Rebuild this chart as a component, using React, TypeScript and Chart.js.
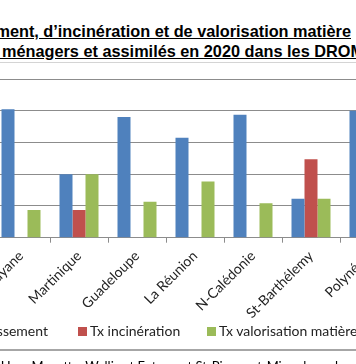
import React, { useEffect, useRef } from "react";
import { Chart, registerables } from "chart.js";

Chart.register(...registerables);

const categories = ["Guyane", "Martinique", "Guadeloupe", "La Réunion", "N-Calédonie", "St-Barthélemy", "Polynésie"];
const seriesNames = ["Tx enfouissement", "Tx incinération", "Tx valorisation matière"];
const tauxEnfouissement = [81, 40, 76, 63, 77.5, 24.5, 80];
const tauxIncineration = [0, 17.5, 0, 0, 0, 49.5, 0];
const tauxValorisation = [17.5, 40, 22.7, 35.4, 21.7, 24.5, 15];
const yTicks = [0, 20, 40, 60, 80, 100];
const seriesColors = ["#4F81BD", "#C0504D", "#9BBB59"];

const titleLine1 = "Taux d\u2019enfouissement, d\u2019incinération et de valorisation matière";
const titleLine2a = "des déchets ";
const titleLine2b = "ménagers et assimilés en 2020 dans les DROM-COM";
const footnote = "* Hors Mayotte, Wallis et Futuna et St-Pierre-et-Miquelon : données non disponibles";

export default function App() {
  const ref = useRef<HTMLCanvasElement>(null);

  useEffect(() => {
    const values = [tauxEnfouissement, tauxIncineration, tauxValorisation];
    const chart = new Chart(ref.current as HTMLCanvasElement, {
      type: "bar",
      data: {
        labels: categories,
        datasets: seriesNames.map((name, i) => ({
          label: name,
          data: values[i],
          backgroundColor: seriesColors[i],
          borderWidth: 0,
          categoryPercentage: 39 / 58,
          barPercentage: 1,
        })),
      },
      options: {
        animation: false,
        responsive: false,
        maintainAspectRatio: false,
        devicePixelRatio: 1,
        layout: { padding: { top: 16, left: 0, right: 10, bottom: 0 } },
        plugins: {
          legend: { display: false },
          tooltip: { enabled: false },
          title: { display: false },
        },
        scales: {
          x: {
            grid: {
              display: true,
              drawOnChartArea: false,
              drawTicks: true,
              tickLength: 5,
              color: "#8c8c8c",
              offset: true,
            },
            border: { display: true, color: "#8c8c8c", width: 1 },
            ticks: {
              minRotation: 45,
              maxRotation: 45,
              autoSkip: false,
              color: "#222",
              padding: 5,
              font: { family: "Lato", size: 14 },
            },
            afterFit: (s: any) => {
              s.height = 95.3;
            },
          },
          y: {
            min: 0,
            max: 100,
            afterBuildTicks: (s: any) => {
              s.ticks = yTicks.map((v) => ({ value: v }));
            },
            ticks: {
              color: "#222",
              font: { family: "Lato", size: 13 },
              callback: (v: any) => v + " %",
            },
            grid: { color: "#8c8c8c", lineWidth: 1 },
            border: { display: true, color: "#8c8c8c" },
            afterFit: (s: any) => {
              s.width = 40;
            },
          },
        },
      },
    });
    return () => chart.destroy();
  }, []);

  const titleStyle: React.CSSProperties = {
    position: "absolute",
    whiteSpace: "pre",
    fontFamily: "'Liberation Sans', Arial, sans-serif",
    fontWeight: "bold",
    fontSize: 16.3,
    lineHeight: "20px",
    textDecoration: "underline",
    color: "#000",
  };
  const legendText: React.CSSProperties = {
    fontFamily: "Lato, sans-serif",
    fontSize: 14,
    lineHeight: "14px",
    color: "#222",
    whiteSpace: "pre",
  };
  const box = (c: string): React.CSSProperties => ({
    width: 9,
    height: 9,
    background: c,
    marginRight: 3,
    marginTop: 1,
  });
  const legendPos: React.CSSProperties[] = [
    { right: 308 },
    { left: 78 },
    { left: 207 },
  ];

  return (
    <div
      style={{
        position: "fixed",
        left: 0,
        top: 0,
        width: 356,
        height: 364,
        overflow: "hidden",
        background: "#fff",
      }}
    >
      <div style={{ ...titleStyle, top: 21, right: 5 }}>{titleLine1}</div>
      <div style={{ ...titleStyle, top: 41, right: 354 }}>{titleLine2a}</div>
      <div style={{ ...titleStyle, top: 41, left: 2 }}>{titleLine2b}</div>

      <div
        style={{
          position: "absolute",
          left: -20,
          top: 62,
          width: 420,
          height: 286,
          borderTop: "1px solid #d4d4d4",
          borderBottom: "2px solid #a6a6a6",
        }}
      />

      <canvas
        ref={ref}
        width={456}
        height={270}
        style={{ position: "absolute", left: -48, top: 63, width: 456, height: 270 }}
      />

      {seriesNames.map((name, i) => (
        <div
          key={name}
          style={{
            position: "absolute",
            top: 324,
            display: "flex",
            alignItems: "center",
            ...legendPos[i],
          }}
        >
          <div style={box(seriesColors[i])} />
          <span style={legendText}>{name}</span>
        </div>
      ))}

      <div
        style={{
          position: "absolute",
          left: -8,
          top: 360,
          whiteSpace: "pre",
          fontFamily: "Lato, sans-serif",
          fontSize: 13,
          lineHeight: "13px",
          color: "#000",
        }}
      >
        {footnote}
      </div>
    </div>
  );
}
